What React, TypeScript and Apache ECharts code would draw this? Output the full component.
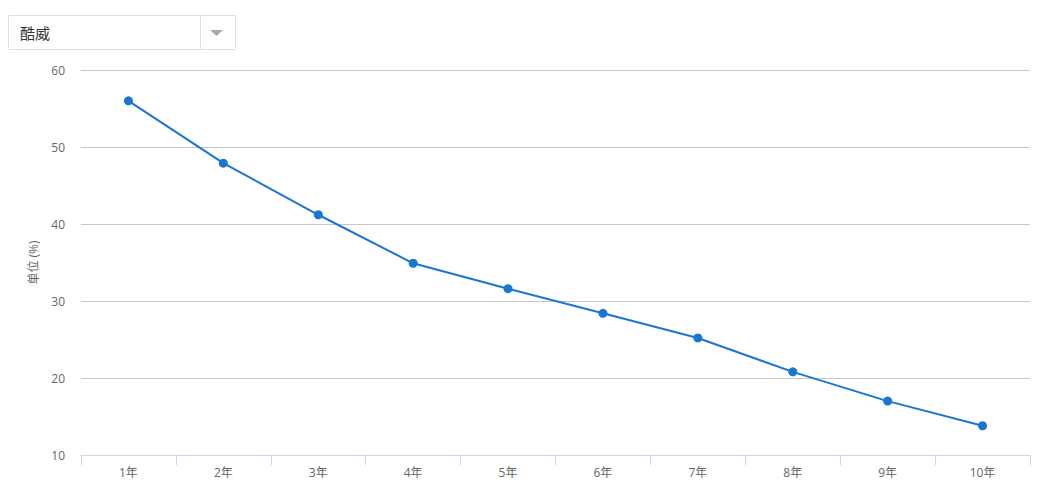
import React, { useEffect, useRef } from "react";
import * as echarts from "echarts";

const categories = ["1年", "2年", "3年", "4年", "5年", "6年", "7年", "8年", "9年", "10年"];
const values = [56, 47.9, 41.2, 34.9, 31.6, 28.4, 25.2, 20.8, 17.0, 13.8];
const selected = "酷威";
const axisName = "单位 (%)";

export default function App() {
  const ref = useRef<HTMLDivElement>(null);
  useEffect(() => {
    const chart = echarts.init(ref.current!, null, { renderer: "svg" });
    chart.setOption({
      animation: false,
      textStyle: { fontFamily: "'Open Sans', 'Noto Sans CJK SC', sans-serif" },
      grid: { left: 73, right: 2, top: 62, bottom: 33 },
      xAxis: {
        type: "category",
        data: categories,
        boundaryGap: true,
        axisLine: { lineStyle: { color: "#ccd6eb", width: 1 } },
        axisTick: { show: true, length: 10, lineStyle: { color: "#ccd6eb" } },
        axisLabel: { color: "#666", fontSize: 12, margin: 11 },
      },
      yAxis: {
        type: "value",
        min: 10,
        max: 60,
        interval: 10,
        name: axisName,
        nameLocation: "middle",
        nameGap: 42,
        nameTextStyle: { color: "#666", fontSize: 12 },
        axisLine: { show: false },
        axisTick: { show: false },
        axisLabel: { color: "#666", fontSize: 12, margin: 16 },
        splitLine: { lineStyle: { color: "#c8c8c8", width: 1 } },
      },
      series: [
        {
          type: "line",
          data: values,
          symbol: "circle",
          symbolSize: 9,
          lineStyle: { color: "#1976d2", width: 2 },
          itemStyle: { color: "#1976d2" },
        },
      ],
      graphic: [
        {
          type: "rect",
          shape: { x: 0.5, y: 7.5, width: 227, height: 34 },
          style: { fill: "#fff", stroke: "#e0e0e0", lineWidth: 1 },
        },
        {
          type: "line",
          shape: { x1: 192.5, y1: 8, x2: 192.5, y2: 41 },
          style: { stroke: "#e0e0e0", lineWidth: 1 },
        },
        {
          type: "polygon",
          shape: { points: [[202, 22], [215, 22], [208.5, 28]] },
          style: { fill: "#a3a9b6" },
        },
        {
          type: "text",
          x: 12,
          y: 24,
          style: {
            text: selected,
            fill: "#333",
            font: "15px 'Noto Sans CJK SC', sans-serif",
            verticalAlign: "middle",
          },
        },
      ],
    });
    return () => chart.dispose();
  }, []);
  return <div ref={ref} style={{ width: 1024, height: 480 }} />;
}
